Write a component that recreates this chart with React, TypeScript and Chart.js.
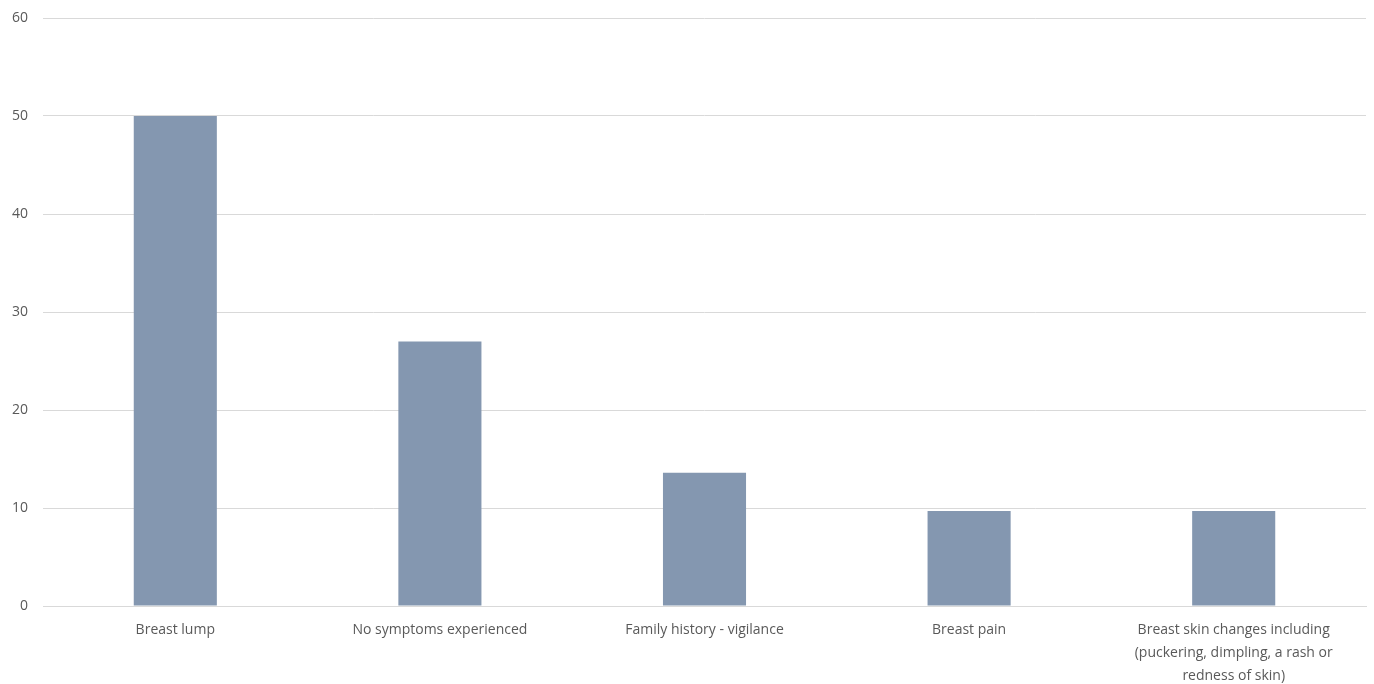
import React, { useEffect, useRef } from "react";
import { Chart, registerables } from "chart.js";

Chart.register(...registerables);

const categories: (string | string[])[] = [
  "Breast lump",
  "No symptoms experienced",
  "Family history - vigilance",
  "Breast pain",
  ["Breast skin changes including", "(puckering, dimpling, a rash or", "redness of skin)"],
];
const values: number[] = [50, 27, 13.6, 9.7, 9.7];
const yTicks = { min: 0, max: 60, step: 10 };

export default function App() {
  const ref = useRef<HTMLCanvasElement>(null);
  useEffect(() => {
    if (!ref.current) return;
    const chart = new Chart(ref.current, {
      type: "bar",
      data: {
        labels: categories,
        datasets: [
          {
            data: values,
            backgroundColor: "#8497B0",
            borderWidth: 0,
            barPercentage: 0.314,
            categoryPercentage: 1,
          },
        ],
      },
      options: {
        animation: false,
        responsive: false,
        maintainAspectRatio: false,
        layout: { padding: { top: 18, right: 8, left: 0, bottom: 0 } },
        plugins: { legend: { display: false }, tooltip: { enabled: false } },
        scales: {
          x: {
            grid: { display: false, drawTicks: false },
            border: { display: true, color: "#d9d9d9", width: 1 },
            ticks: {
              color: "#595959",
              font: { family: "'Open Sans', sans-serif", size: 14, lineHeight: 1.65 },
              padding: 12,
              maxRotation: 0,
              autoSkip: false,
            },
            afterFit: (s: any) => {
              s.height = 78;
            },
          },
          y: {
            min: yTicks.min,
            max: yTicks.max,
            ticks: {
              stepSize: yTicks.step,
              color: "#595959",
              font: { family: "'Open Sans', sans-serif", size: 14 },
              padding: 15,
            },
            grid: { color: "#d9d9d9", drawTicks: false, lineWidth: 1 },
            border: { display: false },
            afterFit: (s: any) => {
              s.width = 43;
              s.paddingTop = 0;
              s.paddingBottom = 0;
            },
          },
        },
      },
    });
    return () => chart.destroy();
  }, []);
  return (
    <canvas
      ref={ref}
      width={1374}
      height={684}
      style={{ position: "absolute", left: 0, top: 0, width: 1374, height: 684, background: "#fff" }}
    />
  );
}
